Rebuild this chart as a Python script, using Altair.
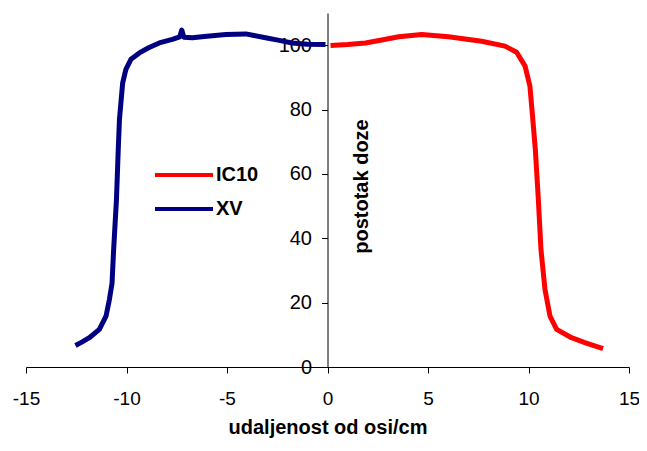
import altair as alt
import pandas as pd

# XV (blue) profile, left side
xv_x = [-12.54, -12.2, -11.85, -11.35, -11.02, -10.85, -10.72, -10.64, -10.5, -10.41,
        -10.35, -10.19, -10.03, -9.78, -9.36, -8.9, -8.37, -7.72, -7.35, -7.25, -7.15,
        -6.72, -6.0, -5.06, -4.07, -3.08, -2.4, -1.76, -1.0, -0.1]
xv_y = [6.7, 7.8, 9.1, 11.7, 15.8, 21.0, 26.0, 36.5, 52.0, 67.6,
        77.0, 88.3, 92.5, 95.6, 97.6, 99.2, 100.7, 101.8, 102.6, 104.7, 102.5,
        102.3, 102.8, 103.3, 103.5, 102.3, 101.5, 100.7, 100.3, 100.2]

# IC10 (red) profile, right side
ic_x = [0.15, 1.0, 1.89, 2.7, 3.54, 4.69, 6.02, 7.67, 8.83, 9.41, 9.83, 10.07, 10.2,
        10.34, 10.49, 10.62, 10.82, 11.07, 11.4, 12.14, 12.8, 13.71]
ic_y = [99.9, 100.2, 100.7, 101.6, 102.6, 103.3, 102.6, 101.2, 99.7, 97.8, 93.5, 87.3, 78.0,
        67.6, 52.0, 36.5, 24.1, 15.8, 11.7, 9.1, 7.6, 5.7]

x_ticks = [-15, -10, -5, 0, 5, 10, 15]
y_ticks = [0, 20, 40, 60, 80, 100]
series_names = ["IC10", "XV"]
series_colors = ["#FF0000", "#000080"]

df = pd.concat([
    pd.DataFrame({"x": ic_x, "y": ic_y, "s": "IC10", "o": range(len(ic_x))}),
    pd.DataFrame({"x": xv_x, "y": xv_y, "s": "XV", "o": range(len(xv_x))}),
])

FONT = "Liberation Sans"
W, H = 603, 354
FS = 20

chart = alt.Chart(df).mark_line(strokeWidth=5, strokeJoin="round").encode(
    x=alt.X("x:Q", scale=alt.Scale(domain=[-15, 15], nice=False, zero=False),
            axis=alt.Axis(values=x_ticks, grid=False,
                          labelExpr="datum.value < 0 ? '-' + abs(datum.value) : '' + datum.value",
                          title="udaljenost od osi/cm", titleFont=FONT, titleFontSize=FS,
                          titleFontWeight="bold", titleColor="#000", titlePadding=9,
                          labelFont=FONT, labelFontSize=19, labelColor="#000", labelPadding=16,
                          domainColor="#000", tickColor="#000", tickSize=6, labelFlush=False)),
    y=alt.Y("y:Q", scale=alt.Scale(domain=[0, 110], nice=False),
            axis=alt.Axis(values=y_ticks, grid=False, offset=-W / 2,
                          title="postotak doze", titleFont=FONT, titleFontSize=FS,
                          titleFontWeight="bold", titleColor="#000",
                          titleX=34, titleY=173, titleAlign="center", titleBaseline="middle",
                          titleAngle=270,
                          labelFont=FONT, labelFontSize=FS, labelColor="#000", labelPadding=10,
                          domainColor="#000", tickColor="#000", tickSize=6)),
    color=alt.Color("s:N", scale=alt.Scale(domain=series_names, range=series_colors),
                    legend=alt.Legend(title=None, orient="none", legendX=127, legendY=145,
                                      symbolType="stroke", symbolSize=3364, symbolStrokeWidth=4,
                                      labelFont=FONT, labelFontSize=FS, labelFontWeight="bold",
                                      labelColor="#000", rowPadding=0, clipHeight=34, padding=0,
                                      labelOffset=1)),
    order="o:Q",
).properties(
    width=W, height=H,
    autosize=alt.AutoSizeParams(type="none"),
    padding={"left": 18, "top": 5, "right": 10, "bottom": 78},
).configure_view(stroke=None)

chart.save("out.html", embed_options={"renderer": "svg", "actions": False})
